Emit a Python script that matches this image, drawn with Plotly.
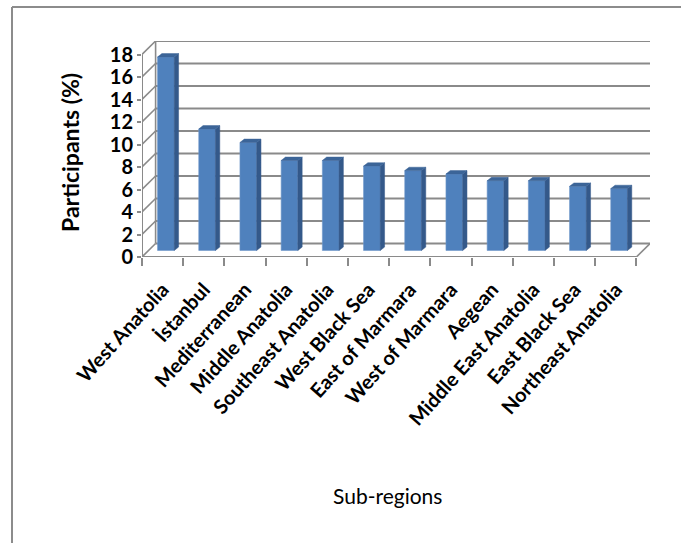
import plotly.graph_objects as go

CATEGORIES = ["West Anatolia", "İstanbul", "Mediterranean", "Middle Anatolia",
              "Southeast Anatolia", "West Black Sea", "East of Marmara",
              "West of Marmara", "Aegean", "Middle East Anatolia",
              "East Black Sea", "Northeast Anatolia"]
VALUES = [17.2, 10.8, 9.6, 8.0, 8.0, 7.5, 7.1, 6.8, 6.2, 6.2, 5.7, 5.5]
YTICKS = [0, 2, 4, 6, 8, 10, 12, 14, 16, 18]
YTITLE = "Participants (%)"
XTITLE = "Sub-regions"

# figure geometry (pixels)
W, H = 681, 543
L, R, T, B = 142, 650, 41, 257
n = len(CATEGORIES)
DX = 0.33          # depth offset of back wall (category units)
DY = 1.2           # depth offset of back wall (value units)
YMAX = max(YTICKS) + DY
XMIN, XMAX = -0.5, n - 0.5 + DX

BAR_W = 0.405
BAR_DX = 0.08
BAR_BASE = 0.58
SX, SY = 0.105, 0.3

GRID = "#8a8a8a"
FRONT = "#4F81BD"
SIDE = "#34598A"
TOP = "#3C6598"


def px_x(p):
    return (p - L) / (R - L)


def px_y(p):
    return (B - p) / (B - T)


shapes = []
# walls / gridlines
for t in YTICKS:
    shapes.append(dict(type="line", xref="x", yref="y", x0=XMIN, y0=t, x1=XMIN + DX, y1=t + DY,
                       line=dict(color=GRID, width=1.6), layer="below"))
    shapes.append(dict(type="line", xref="x", yref="y", x0=XMIN + DX, y0=t + DY, x1=XMAX, y1=t + DY,
                       line=dict(color=GRID, width=2), layer="below"))
shapes.append(dict(type="line", xref="x", yref="y", x0=XMIN + DX, y0=DY, x1=XMIN + DX, y1=max(YTICKS) + DY,
                   line=dict(color=GRID, width=1.6), layer="below"))
shapes.append(dict(type="line", xref="x", yref="y", x0=XMIN, y0=0, x1=XMIN, y1=max(YTICKS),
                   line=dict(color=GRID, width=2), layer="below"))
shapes.append(dict(type="line", xref="x", yref="y", x0=XMIN, y0=0, x1=n - 0.5, y1=0,
                   line=dict(color=GRID, width=2), layer="below"))
shapes.append(dict(type="line", xref="x", yref="y", x0=n - 0.5, y0=0, x1=XMAX, y1=DY,
                   line=dict(color=GRID, width=1.6), layer="below"))
# chart border (top and left)
shapes.append(dict(type="line", xref="paper", yref="paper", x0=px_x(12), y0=px_y(7), x1=px_x(W + 5), y1=px_y(7),
                   line=dict(color="#8c8c8c", width=2)))
shapes.append(dict(type="line", xref="paper", yref="paper", x0=px_x(12), y0=px_y(7), x1=px_x(12), y1=px_y(H + 5),
                   line=dict(color="#8c8c8c", width=2)))

fig = go.Figure()
xs = [i + BAR_DX for i in range(n)]
fig.add_trace(go.Bar(x=xs, y=VALUES, base=BAR_BASE, width=BAR_W,
                     marker=dict(color=FRONT, line=dict(color="#6f97c9", width=0.6)),
                     hoverinfo="skip"))

side_x, side_y, top_x, top_y = [], [], [], []
for x, v in zip(xs, VALUES):
    xr = x + BAR_W / 2
    xl = x - BAR_W / 2
    b = BAR_BASE
    tp = BAR_BASE + v
    side_x += [xr, xr + SX, xr + SX, xr, xr, None]
    side_y += [b, b + SY, tp + SY, tp, b, None]
    top_x += [xl, xr, xr + SX, xl + SX, xl, None]
    top_y += [tp, tp, tp + SY, tp + SY, tp, None]

fig.add_trace(go.Scatter(x=side_x, y=side_y, mode="lines", fill="toself", fillcolor=SIDE,
                         line=dict(color=SIDE, width=0.5), hoverinfo="skip"))
fig.add_trace(go.Scatter(x=top_x, y=top_y, mode="lines", fill="toself", fillcolor=TOP,
                         line=dict(color=TOP, width=0.5), hoverinfo="skip"))

FONT = "Lato"
fig.update_layout(
    width=W, height=H,
    margin=dict(l=L, r=W - R, t=T, b=H - B, pad=0),
    paper_bgcolor="white", plot_bgcolor="white",
    showlegend=False,
    shapes=shapes,
    xaxis=dict(range=[XMIN, XMAX], tickmode="array", tickvals=list(range(n)), ticktext=CATEGORIES,
               tickangle=-48, ticks="", showgrid=False, zeroline=False, showline=False,
               ticklabelstandoff=16,
               tickfont=dict(family=FONT, size=20, color="black", weight="bold"),
               minor=dict(tickmode="linear", tick0=-0.5, dtick=1, ticks="outside", ticklen=8,
                          tickwidth=2, tickcolor=GRID, showgrid=False)),
    yaxis=dict(range=[0, YMAX], tickmode="array", tickvals=YTICKS, ticks="outside", ticklen=4,
               tickwidth=2, tickcolor=GRID, showgrid=False, zeroline=False, showline=False,
               tickfont=dict(family=FONT, size=20, color="black", weight="bold")),
    annotations=[
        dict(text=YTITLE, xref="paper", yref="paper", x=px_x(70), y=px_y(153), textangle=-90,
             showarrow=False, xanchor="center", yanchor="middle",
             font=dict(family=FONT, size=23, color="black", weight="bold")),
        dict(text=XTITLE, xref="paper", yref="paper", x=px_x(387), y=px_y(495),
             showarrow=False, xanchor="center", yanchor="middle",
             font=dict(family=FONT, size=21, color="black")),
    ],
)

fig.write_html("out.html")
